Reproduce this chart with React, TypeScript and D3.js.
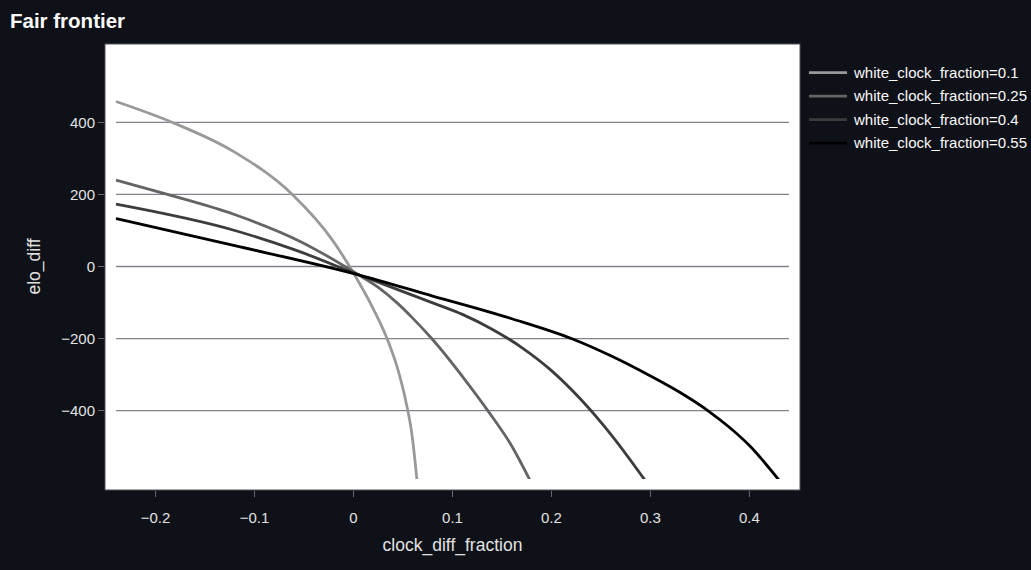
import React from 'react';
import * as d3 from 'd3';

// series
const clockFractions = [0.1, 0.25, 0.4, 0.55];
const seriesColors = ['#999999', '#646464', '#3c3c3c', '#000000'];

const diff_010 = [-0.24, -0.183, -0.121, -0.0618, -0.0215, 0.001, 0.02, 0.035, 0.045, 0.053, 0.059, 0.0642];
const elo_010 = [458, 400, 319, 200, 74, -23, -118, -208, -288, -376, -466, -595];

const diff_025 = [-0.24, -0.188, -0.121, -0.0534, 0.005, 0.025, 0.044, 0.06, 0.079, 0.113, 0.1364, 0.16, 0.178];
const elo_025 = [240, 200, 145, 69, -23, -58, -101, -144, -200, -316, -403, -499, -592];

const diff_040 = [-0.24, -0.12, -0.06, 0.005, 0.08, 0.11, 0.14, 0.17, 0.2, 0.23, 0.26, 0.2944];
const elo_040 = [173, 100, 47, -23, -101, -133, -174, -225, -289, -370, -466, -593];

const diff_055 = [-0.24, -0.12, 0.005, 0.08, 0.16, 0.222, 0.26, 0.3, 0.33, 0.36, 0.38, 0.4, 0.4304];
const elo_055 = [133, 58, -23, -82, -145, -202, -248, -304, -350, -404, -447, -497, -595];

const xTicks = [-0.2, -0.1, 0, 0.1, 0.2, 0.3, 0.4];
const xTickLabels = ['−0.2', '−0.1', '0', '0.1', '0.2', '0.3', '0.4'];
const yTicks = [-400, -200, 0, 200, 400];
const yTickLabels = ['−400', '−200', '0', '200', '400'];

const W = 1031;
const H = 570;
const FONT = '"Liberation Sans", Arial, Helvetica, sans-serif';

export default function App() {
  const x = d3.scaleLinear().domain([-0.24, 0.44]).range([116, 789]);
  const y = d3.scaleLinear().domain([-590, 590]).range([479, 54]);

  const series = [
    { diffs: diff_010, elos: elo_010 },
    { diffs: diff_025, elos: elo_025 },
    { diffs: diff_040, elos: elo_040 },
    { diffs: diff_055, elos: elo_055 },
  ];

  const line = d3
    .line<[number, number]>()
    .x(d => x(d[0]))
    .y(d => y(d[1]))
    .curve(d3.curveMonotoneX);

  const [x0, x1] = x.range();
  const [yb, yt] = y.range();
  const pad = 11;

  return (
    <svg
      width={W}
      height={H}
      style={{ position: 'absolute', left: 0, top: 0, display: 'block' }}
      fontFamily={FONT}
    >
      <rect width={W} height={H} fill="#0e1117" />

      <text x={10} y={28} fontSize={20.5} fontWeight="bold" fill="#fafafa">
        Fair frontier
      </text>

      <defs>
        <clipPath id="plot-clip">
          <rect x={x0 - pad} y={yt} width={x1 - x0 + 2 * pad} height={yb - yt} />
        </clipPath>
      </defs>

      <rect
        x={x0 - pad}
        y={yt - 10}
        width={x1 - x0 + 2 * pad}
        height={yb - yt + 21}
        fill="#ffffff"
        stroke="#50525c"
        strokeWidth={1}
      />

      {/* horizontal grid */}
      {yTicks.map(t => (
        <line key={t} x1={x0} x2={x1} y1={y(t)} y2={y(t)} stroke="#80828e" strokeWidth={1.3} />
      ))}

      {/* curves */}
      <g clipPath="url(#plot-clip)">
        {series.map((s, i) => (
          <path
            key={i}
            d={line(s.diffs.map((v, j) => [v, s.elos[j]] as [number, number])) || ''}
            fill="none"
            stroke={seriesColors[i]}
            strokeWidth={2.8}
            strokeLinejoin="round"
          />
        ))}
      </g>

      {/* y axis */}
      {yTicks.map((t, i) => (
        <g key={t}>
          <line x1={98} x2={104} y1={y(t)} y2={y(t)} stroke="#6a6c76" strokeWidth={1} />
          <text x={95} y={y(t)} dy="0.35em" textAnchor="end" fontSize={15} fill="#e2e2e2">
            {yTickLabels[i]}
          </text>
        </g>
      ))}
      <text
        transform={`translate(40,${(yt + yb) / 2}) rotate(-90)`}
        textAnchor="middle"
        fontSize={17.5}
        fill="#e2e2e2"
      >
        elo_diff
      </text>

      {/* x axis */}
      {xTicks.map((t, i) => (
        <g key={t}>
          <line x1={x(t)} x2={x(t)} y1={491} y2={497} stroke="#6a6c76" strokeWidth={1} />
          <text x={x(t)} y={523} textAnchor="middle" fontSize={15} fill="#e2e2e2">
            {xTickLabels[i]}
          </text>
        </g>
      ))}
      <text x={(x0 + x1) / 2} y={551} textAnchor="middle" fontSize={17.5} fill="#e2e2e2">
        clock_diff_fraction
      </text>

      {/* legend */}
      {clockFractions.map((f, i) => {
        const ly = 72.7 + i * 23.5;
        return (
          <g key={f}>
            <line x1={809} x2={847} y1={ly} y2={ly} stroke={seriesColors[i]} strokeWidth={2.8} />
            <text x={854} y={ly} dy="0.35em" fontSize={15} fill="#fafafa">
              {`white_clock_fraction=${f}`}
            </text>
          </g>
        );
      })}
    </svg>
  );
}
